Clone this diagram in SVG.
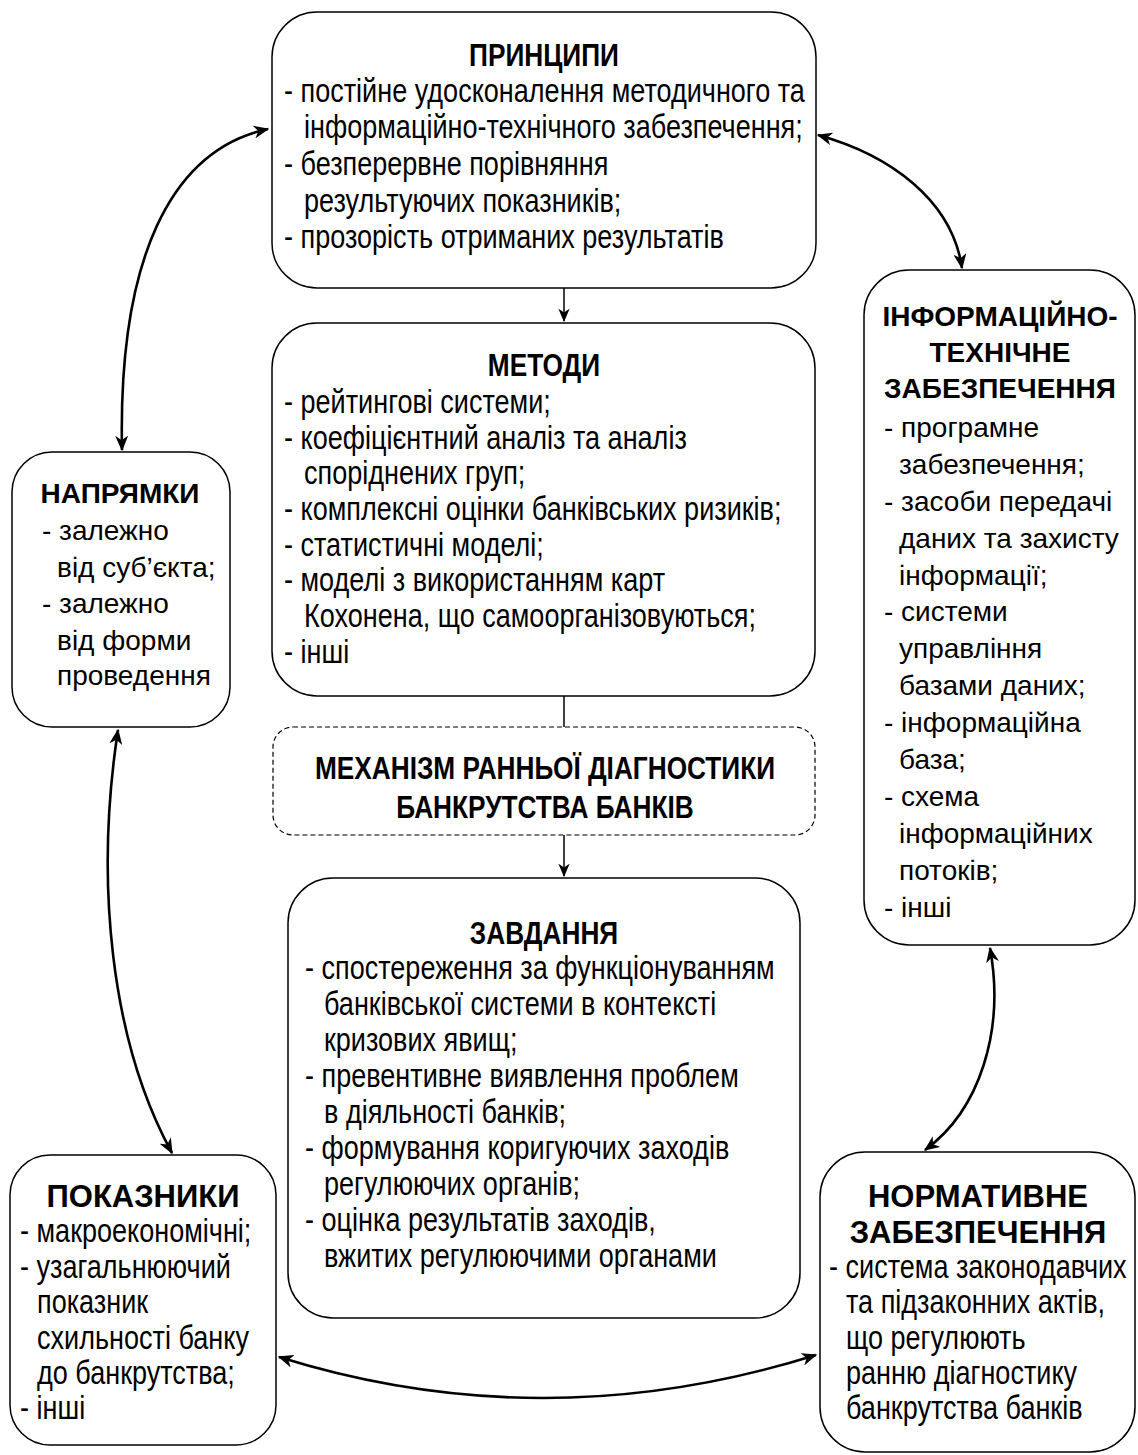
<svg xmlns="http://www.w3.org/2000/svg" width="1138" height="1455" viewBox="0 0 1138 1455">
<defs>
<style>
.box{fill:#fff;stroke:#000;stroke-width:1.5}
.dash{fill:#fff;stroke:#000;stroke-width:1.2;stroke-dasharray:5 3}
.n{font-family:"Liberation Sans",Arial,sans-serif;font-size:33px;fill:#000}
.nb{font-family:"Liberation Sans",Arial,sans-serif;font-size:32px;font-weight:bold;fill:#000;text-anchor:middle}
.r{font-family:"Liberation Sans",Arial,sans-serif;font-size:28px;fill:#000}
.rb{font-family:"Liberation Sans",Arial,sans-serif;font-size:28px;font-weight:bold;fill:#000;text-anchor:middle}
.wb{font-family:"Liberation Sans",Arial,sans-serif;font-size:31px;font-weight:bold;fill:#000;text-anchor:middle}
.c{fill:none;stroke:#000;stroke-width:2.6}
.s{fill:none;stroke:#000;stroke-width:1.5}
</style>
<marker id="ah" viewBox="0 0 12 10" refX="11" refY="5" markerWidth="6" markerHeight="5" orient="auto-start-reverse" markerUnits="strokeWidth">
<path d="M0,0 L12,5 L0,10 L3.5,5 Z" fill="#000"/>
</marker>
<marker id="sh" viewBox="0 0 12 10" refX="11" refY="5" markerWidth="9" markerHeight="7.5" orient="auto" markerUnits="strokeWidth">
<path d="M0,0 L12,5 L0,10 L3.5,5 Z" fill="#000"/>
</marker>
</defs>

<g id="connectors">
<path class="c" d="M122,450 C118,260 170,150 268,129" marker-start="url(#ah)" marker-end="url(#ah)"/>
<path class="c" d="M818,135 C890,155 952,200 962,268" marker-start="url(#ah)" marker-end="url(#ah)"/>
<path class="c" d="M118,730 C95,880 110,1040 172,1153" marker-start="url(#ah)" marker-end="url(#ah)"/>
<path class="c" d="M990,948 C1005,1030 980,1110 925,1150" marker-start="url(#ah)" marker-end="url(#ah)"/>
<path class="c" d="M279,1357 Q545,1440 816,1355" marker-start="url(#ah)" marker-end="url(#ah)"/>
<path class="s" d="M564,288 L564,321" marker-end="url(#sh)"/>
<path class="s" d="M564,696 L564,727"/>
<path class="s" d="M564,835 L564,876" marker-end="url(#sh)"/>
</g>

<g id="pryntsypy">
<rect class="box" x="272" y="12" width="544" height="276" rx="45"/>
<text class="nb" transform="translate(544,66) scale(0.82,1)">ПРИНЦИПИ</text>
<text class="n" transform="translate(284,102) scale(0.82,1)">- постійне удосконалення методичного та</text>
<text class="n" transform="translate(304,138) scale(0.82,1)">інформаційно-технічного забезпечення;</text>
<text class="n" transform="translate(284,175) scale(0.82,1)">- безперервне порівняння</text>
<text class="n" transform="translate(304,212) scale(0.82,1)">результуючих показників;</text>
<text class="n" transform="translate(284,248) scale(0.82,1)">- прозорість отриманих результатів</text>
</g>

<g id="metody">
<rect class="box" x="272" y="323" width="543" height="373" rx="45"/>
<text class="nb" transform="translate(544,376) scale(0.82,1)">МЕТОДИ</text>
<text class="n" transform="translate(284,413) scale(0.82,1)">- рейтингові системи;</text>
<text class="n" transform="translate(284,449) scale(0.82,1)">- коефіцієнтний аналіз та аналіз</text>
<text class="n" transform="translate(304,484) scale(0.82,1)">споріднених груп;</text>
<text class="n" transform="translate(284,520) scale(0.82,1)">- комплексні оцінки банківських ризиків;</text>
<text class="n" transform="translate(284,556) scale(0.82,1)">- статистичні моделі;</text>
<text class="n" transform="translate(284,591) scale(0.82,1)">- моделі з використанням карт</text>
<text class="n" transform="translate(304,627) scale(0.82,1)">Кохонена, що самоорганізовуються;</text>
<text class="n" transform="translate(284,663) scale(0.82,1)">- інші</text>
</g>

<g id="mekhanizm">
<rect class="dash" x="273" y="727" width="542" height="108" rx="20"/>
<text class="nb" transform="translate(545,779) scale(0.82,1)">МЕХАНІЗМ РАННЬОЇ ДІАГНОСТИКИ</text>
<text class="nb" transform="translate(545,818) scale(0.82,1)">БАНКРУТСТВА БАНКІВ</text>
</g>

<g id="zavdannya">
<rect class="box" x="288" y="878" width="512" height="440" rx="45"/>
<text class="nb" transform="translate(544,944) scale(0.82,1)">ЗАВДАННЯ</text>
<text class="n" transform="translate(305,979) scale(0.82,1)">- спостереження за функціонуванням</text>
<text class="n" transform="translate(324,1015) scale(0.82,1)">банківської системи в контексті</text>
<text class="n" transform="translate(324,1051) scale(0.82,1)">кризових явищ;</text>
<text class="n" transform="translate(305,1087) scale(0.82,1)">- превентивне виявлення проблем</text>
<text class="n" transform="translate(324,1123) scale(0.82,1)">в діяльності банків;</text>
<text class="n" transform="translate(305,1159) scale(0.82,1)">- формування коригуючих заходів</text>
<text class="n" transform="translate(324,1195) scale(0.82,1)">регулюючих органів;</text>
<text class="n" transform="translate(305,1231) scale(0.82,1)">- оцінка результатів заходів,</text>
<text class="n" transform="translate(324,1267) scale(0.82,1)">вжитих регулюючими органами</text>
</g>

<g id="napryamky">
<rect class="box" x="12" y="452" width="218" height="275" rx="40"/>
<text class="rb" x="120" y="503">НАПРЯМКИ</text>
<text class="r" x="42" y="540">- залежно</text>
<text class="r" x="57" y="577">від суб’єкта;</text>
<text class="r" x="42" y="613">- залежно</text>
<text class="r" x="57" y="650">від форми</text>
<text class="r" x="57" y="685">проведення</text>
</g>

<g id="info">
<rect class="box" x="864" y="270" width="271" height="675" rx="45"/>
<text class="rb" x="1000" y="326">ІНФОРМАЦІЙНО-</text>
<text class="rb" x="1000" y="362">ТЕХНІЧНЕ</text>
<text class="rb" x="1000" y="398">ЗАБЕЗПЕЧЕННЯ</text>
<text class="r" x="884" y="437">- програмне</text>
<text class="r" x="899" y="474">забезпечення;</text>
<text class="r" x="884" y="511">- засоби передачі</text>
<text class="r" x="899" y="548">даних та захисту</text>
<text class="r" x="899" y="585">інформації;</text>
<text class="r" x="884" y="621">- системи</text>
<text class="r" x="899" y="658">управління</text>
<text class="r" x="899" y="695">базами даних;</text>
<text class="r" x="884" y="732">- інформаційна</text>
<text class="r" x="899" y="769">база;</text>
<text class="r" x="884" y="806">- схема</text>
<text class="r" x="899" y="843">інформаційних</text>
<text class="r" x="899" y="880">потоків;</text>
<text class="r" x="884" y="917">- інші</text>
</g>

<g id="pokaznyky">
<rect class="box" x="10" y="1155" width="266" height="290" rx="40"/>
<text class="wb" x="143" y="1207">ПОКАЗНИКИ</text>
<text class="n" transform="translate(20,1242) scale(0.82,1)">- макроекономічні;</text>
<text class="n" transform="translate(20,1278) scale(0.82,1)">- узагальнюючий</text>
<text class="n" transform="translate(37,1313) scale(0.82,1)">показник</text>
<text class="n" transform="translate(37,1349) scale(0.82,1)">схильності банку</text>
<text class="n" transform="translate(37,1384) scale(0.82,1)">до банкрутства;</text>
<text class="n" transform="translate(20,1419) scale(0.82,1)">- інші</text>
</g>

<g id="normatyvne">
<rect class="box" x="820" y="1152" width="315" height="300" rx="45"/>
<text class="wb" x="978" y="1207">НОРМАТИВНЕ</text>
<text class="wb" x="978" y="1243">ЗАБЕЗПЕЧЕННЯ</text>
<text class="n" transform="translate(829,1278) scale(0.82,1)">- система законодавчих</text>
<text class="n" transform="translate(846,1313) scale(0.82,1)">та підзаконних актів,</text>
<text class="n" transform="translate(846,1349) scale(0.82,1)">що регулюють</text>
<text class="n" transform="translate(846,1384) scale(0.82,1)">ранню діагностику</text>
<text class="n" transform="translate(846,1419) scale(0.82,1)">банкрутства банків</text>
</g>
</svg>
